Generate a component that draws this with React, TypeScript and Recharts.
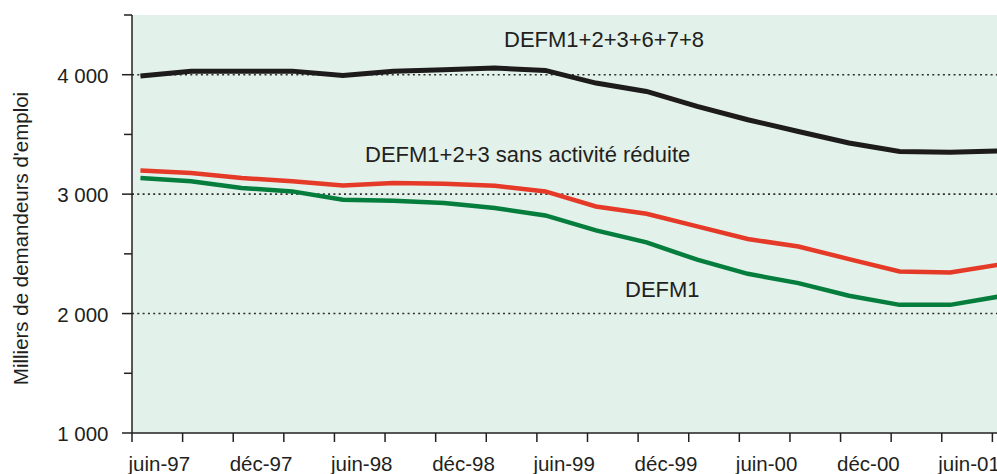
import { CartesianGrid, Line, LineChart, ReferenceLine, XAxis, YAxis } from 'recharts';

// trimestres, de juin 1997 à septembre 2001
const quarters = [
  'juin-97', 'sept-97', 'déc-97', 'mars-98', 'juin-98', 'sept-98', 'déc-98', 'mars-99', 'juin-99',
  'sept-99', 'déc-99', 'mars-00', 'juin-00', 'sept-00', 'déc-00', 'mars-01', 'juin-01', 'sept-01'
];

// milliers de demandeurs d'emploi
const defmTotal = [3990, 4028, 4028, 4030, 3994, 4028, 4042, 4056, 4036, 3930, 3860, 3735, 3623, 3525, 3428, 3358, 3350, 3362];
const defmSansAR = [3198, 3177, 3135, 3107, 3073, 3093, 3087, 3070, 3023, 2897, 2836, 2730, 2624, 2562, 2456, 2352, 2344, 2412];
const defm1 = [3135, 3107, 3051, 3023, 2953, 2945, 2925, 2884, 2822, 2696, 2596, 2451, 2333, 2255, 2149, 2073, 2073, 2145];

const yTicks = [1000, 1500, 2000, 2500, 3000, 3500, 4000, 4500];
const gridValues = [2000, 3000, 4000];

const FONT = '"Liberation Sans", Arial, Helvetica, sans-serif';
const INK = '#231f20';

// one point per quarter, placed mid-month; x axis is in months since juin-97
const data = quarters.map((q, i) => ({
  label: q,
  m: i * 3 + 0.5,
  total: defmTotal[i],
  sansAR: defmSansAR[i],
  defm1: defm1[i]
}));
const xTicks = quarters.map((_, i) => i * 3);

function XTick({ x, y, payload }: any) {
  const idx = Math.round(payload.value / 3);
  const text = idx % 2 === 0 ? quarters[idx] : '';
  return (
    <g>
      <line x1={x} y1={y} x2={x} y2={y + 9} stroke={INK} strokeWidth={1.5} />
      {text && (
        <text x={x - 3.5} y={y + 38} textAnchor="start" fontSize={20.5} fontFamily={FONT} fill={INK}>
          {text}
        </text>
      )}
    </g>
  );
}

function YTick({ x, y, payload }: any) {
  const v = payload.value as number;
  const major = v % 1000 === 0 && v < 4500;
  return (
    <g>
      <line x1={x - (major ? 10 : 8)} y1={y} x2={x} y2={y} stroke={INK} strokeWidth={1.5} />
      {major && (
        <text x={x - 23.5} y={y + 8} textAnchor="end" fontSize={20.5} fontFamily={FONT} fill={INK}>
          {`${v / 1000} 000`}
        </text>
      )}
    </g>
  );
}

export default function App() {
  return (
    <div style={{ position: 'absolute', left: 0, top: 0, width: 997, height: 474, overflow: 'hidden', background: '#fff' }}>
      <LineChart width={1043} height={474} data={data} margin={{ top: 15, right: 0, bottom: 0, left: 0 }}>
        <CartesianGrid fill="#e2f1ea" stroke="none" horizontal={false} vertical={false} />
        {gridValues.map((v) => (
          <ReferenceLine key={v} y={v} stroke="#2e2e2e" strokeWidth={1.6} strokeDasharray="2 3.3" />
        ))}
        <XAxis
          type="number"
          dataKey="m"
          domain={[0, 54]}
          ticks={xTicks}
          allowDataOverflow
          height={41}
          tickSize={0}
          tickMargin={0}
          tickLine={false}
          axisLine={{ stroke: INK, strokeWidth: 1.5 }}
          tick={<XTick />}
          interval={0}
        />
        <YAxis
          type="number"
          domain={[1000, 4500]}
          ticks={yTicks}
          width={132}
          tickSize={0}
          tickMargin={0}
          tickLine={false}
          axisLine={{ stroke: INK, strokeWidth: 1.5 }}
          tick={<YTick />}
          interval={0}
        />
        <Line dataKey="defm1" stroke="#047d3d" strokeWidth={4.5} dot={false} isAnimationActive={false} />
        <Line dataKey="sansAR" stroke="#e63a28" strokeWidth={4.5} dot={false} isAnimationActive={false} />
        <Line dataKey="total" stroke="#1d1b1b" strokeWidth={5} dot={false} isAnimationActive={false} />
      </LineChart>
      <svg
        width={997}
        height={474}
        style={{ position: 'absolute', left: 0, top: 0, pointerEvents: 'none' }}
        fontFamily={FONT}
        fill={INK}
      >
        <text transform="translate(28,238.5) rotate(-90)" textAnchor="middle" fontSize={20.5}>
          Milliers de demandeurs d'emploi
        </text>
        <text x={504} y={46.7} fontSize={22}>DEFM1+2+3+6+7+8</text>
        <text x={365} y={161.7} fontSize={22}>DEFM1+2+3 sans activité réduite</text>
        <text x={625} y={296.7} fontSize={22}>DEFM1</text>
      </svg>
    </div>
  );
}
